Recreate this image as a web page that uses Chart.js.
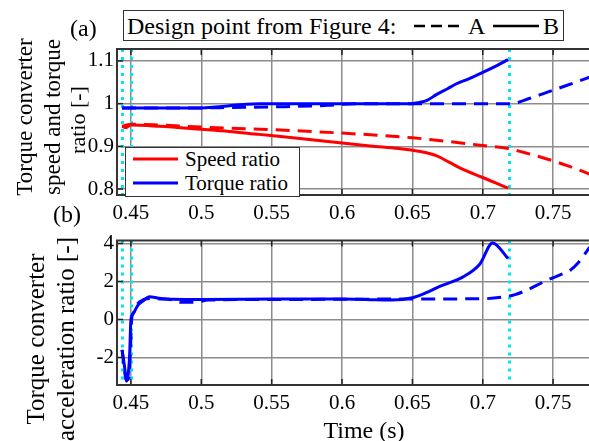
<!DOCTYPE html>
<html>
<head>
<meta charset="utf-8">
<script src="https://cdn.jsdelivr.net/npm/chart.js@4.4.0/dist/chart.umd.min.js"></script>
<style>
  body { margin: 0; background: #fff; width: 589px; height: 441px; overflow: hidden; position: relative; font-family: "Times New Roman", "Liberation Serif", "DejaVu Serif", serif; }
  canvas { position: absolute; left: 0; }
  #topChart { top: 0; }
  #bottomChart { top: 225px; }
  .txt { position: absolute; color: #000; font-size: 24px; white-space: nowrap; line-height: 1; }
  .rot { transform: translate(-50%, -50%) rotate(-90deg); }
  #designBox { position: absolute; left: 123px; top: 10px; width: 439px; height: 29px; border: 1.5px solid #333; background: #fff; }
  #legendBox { position: absolute; left: 125px; top: 147px; width: 173px; height: 48px; border: 1.5px solid #333; background: #fff; z-index: 3; }
  svg text { font-family: "Times New Roman", "Liberation Serif", "DejaVu Serif", serif; }
</style>
</head>
<body>
<canvas id="topChart" width="589" height="225"></canvas>
<canvas id="bottomChart" width="589" height="216"></canvas>

<div id="designBox">
  <svg width="439" height="29" style="position:absolute;left:0;top:0">
    <text x="3" y="23" font-size="24">Design point from Figure 4:</text>
    <line x1="290" y1="15" x2="335" y2="15" stroke="#000" stroke-width="2.5" stroke-dasharray="11,6"/>
    <text x="344" y="23" font-size="24">A</text>
    <line x1="369" y1="15" x2="415" y2="15" stroke="#000" stroke-width="2.5"/>
    <text x="419" y="23" font-size="24">B</text>
  </svg>
</div>

<div id="legendBox">
  <svg width="173" height="48" style="position:absolute;left:0;top:0">
    <line x1="7" y1="11" x2="52" y2="11" stroke="#ff0000" stroke-width="3"/>
    <text x="59" y="18" font-size="21">Speed ratio</text>
    <line x1="7" y1="35" x2="52" y2="35" stroke="#0000ff" stroke-width="3"/>
    <text x="59" y="42" font-size="21">Torque ratio</text>
  </svg>
</div>

<div class="txt" style="left:70px;top:16px;">(a)</div>
<div class="txt" style="left:53px;top:202px;">(b)</div>
<div class="txt rot" style="left:24px;top:117px;font-size:23px;">Torque converter</div>
<div class="txt rot" style="left:52px;top:117px;font-size:23px;">speed and torque</div>
<div class="txt rot" style="left:78px;top:120px;font-size:22px;">ratio [-]</div>
<div class="txt rot" style="left:35px;top:339px;font-size:25px;">Torque converter</div>
<div class="txt rot" style="left:65px;top:339px;font-size:25px;">acceleration ratio [-]</div>
<div class="txt" style="left:364px;top:430px;transform:translate(-50%,-50%);">Time (s)</div>

<script>
// valeurs
const xTicks = [0.45, 0.5, 0.55, 0.6, 0.65, 0.7, 0.75];
const ratioTicks = [0.8, 0.9, 1, 1.1];
const accelTicks = [-2, 0, 2, 4];
const eventTimes = [0.4437, 0.4497, 0.7185];

const timeSpeedA = [0.4437, 0.447, 0.45, 0.47, 0.5, 0.55, 0.6, 0.65, 0.7, 0.718, 0.73, 0.745, 0.76, 0.776];
const speedA = [0.947, 0.95, 0.952, 0.95, 0.945, 0.939, 0.931, 0.92, 0.902, 0.895, 0.885, 0.871, 0.855, 0.835];
const timeSpeedB = [0.4437, 0.4465, 0.4497, 0.47, 0.5, 0.52, 0.541, 0.56, 0.58, 0.6, 0.62, 0.64, 0.65, 0.66, 0.667, 0.676, 0.686, 0.7, 0.71, 0.718];
const speedB = [0.947, 0.944, 0.95, 0.947, 0.94, 0.935, 0.928, 0.922, 0.915, 0.908, 0.901, 0.895, 0.891, 0.885, 0.878, 0.863, 0.846, 0.827, 0.813, 0.802];

const timeTorqueA = [0.4437, 0.5, 0.52, 0.56, 0.59, 0.61, 0.65, 0.7, 0.72, 0.733, 0.745, 0.76, 0.776];
const torqueA = [0.99, 0.99, 0.991, 0.993, 0.996, 1.0, 1.0, 1.0, 1.0, 1.012, 1.026, 1.043, 1.062];
const timeTorqueB = [0.4437, 0.5, 0.51, 0.52, 0.53, 0.541, 0.6, 0.65, 0.655, 0.66, 0.667, 0.675, 0.681, 0.69, 0.7, 0.71, 0.718];
const torqueB = [0.99, 0.99, 0.992, 0.995, 0.998, 1.0, 1.0, 1.0, 1.003, 1.007, 1.021, 1.035, 1.046, 1.058, 1.073, 1.089, 1.103];

const timeAccelA = [0.4437, 0.4452, 0.4465, 0.4485, 0.4497, 0.4505, 0.452, 0.4545, 0.4592, 0.464, 0.471, 0.48, 0.485, 0.495, 0.505, 0.55, 0.6, 0.65, 0.7, 0.718, 0.723, 0.73, 0.745, 0.755, 0.762, 0.768, 0.776];
const accelA = [-1.6, -2.5, -3.2, -3.1, -1.5, 0, 0.37, 0.8, 1.05, 1.1, 1.08, 1.02, 0.9, 0.9, 1.02, 1.05, 1.06, 1.08, 1.09, 1.22, 1.31, 1.5, 2.04, 2.35, 2.58, 3.0, 3.8];
const timeAccelB = [0.4437, 0.4455, 0.4468, 0.449, 0.45, 0.4515, 0.455, 0.459, 0.463, 0.47, 0.48, 0.5, 0.55, 0.6, 0.62, 0.635, 0.65, 0.662, 0.669, 0.686, 0.698, 0.707, 0.718];
const accelB = [-1.6, -2.5, -3.25, -2.0, 0, 0.3, 0.75, 1.0, 1.2, 1.12, 1.06, 1.05, 1.07, 1.08, 1.04, 1.02, 1.14, 1.48, 1.73, 2.24, 2.92, 4.03, 3.21];

const RED = '#ff0000';
const BLUE = '#0000ff';
const DASH = [14, 8];
const FONT = '"Times New Roman", "Liberation Serif", "DejaVu Serif", serif';

function points(xs, ys) {
    return xs.map((x, i) => ({ x: x, y: ys[i] }));
}

function line(xs, ys, color, dashed) {
    return {
        data: points(xs, ys),
        borderColor: color,
        borderWidth: 3,
        borderDash: dashed ? DASH : [],
        pointRadius: 0,
        cubicInterpolationMode: 'monotone',
        fill: false
    };
}

// cadre, petites graduations et lignes cyan
const framePlugin = {
    id: 'frame',
    beforeDatasetsDraw(chart) {
        const { ctx, chartArea: a, scales } = chart;
        ctx.save();
        ctx.strokeStyle = '#00e5ee';
        ctx.lineWidth = 3;
        ctx.setLineDash([3, 5]);
        eventTimes.forEach(t => {
            const x = Math.round(scales.x.getPixelForValue(t)) + 0.5;
            ctx.beginPath();
            ctx.moveTo(x, a.top);
            ctx.lineTo(x, a.bottom);
            ctx.stroke();
        });
        ctx.restore();
    },
    afterDraw(chart) {
        const { ctx, chartArea: a, scales } = chart;
        ctx.save();
        ctx.strokeStyle = '#222';
        ctx.lineWidth = 1.5;
        scales.x.ticks.forEach(tk => {
            const x = scales.x.getPixelForValue(tk.value);
            ctx.beginPath();
            ctx.moveTo(x, a.bottom); ctx.lineTo(x, a.bottom - 6);
            ctx.moveTo(x, a.top); ctx.lineTo(x, a.top + 6);
            ctx.stroke();
        });
        scales.y.ticks.forEach(tk => {
            const y = scales.y.getPixelForValue(tk.value);
            ctx.beginPath();
            ctx.moveTo(a.left, y); ctx.lineTo(a.left + 6, y);
            ctx.stroke();
        });
        ctx.lineWidth = 2;
        ctx.strokeStyle = '#333';
        ctx.beginPath();
        ctx.moveTo(a.right + 2, a.top);
        ctx.lineTo(a.left, a.top);
        ctx.lineTo(a.left, a.bottom);
        ctx.lineTo(a.right + 2, a.bottom);
        ctx.stroke();
        ctx.restore();
    }
};

function makeOptions(yMin, yMax, yTicks, padTop, xHeight) {
    return {
        responsive: false,
        animation: false,
        devicePixelRatio: 1,
        layout: { padding: { top: padTop, left: 0, right: 0, bottom: 0 } },
        plugins: { legend: { display: false }, tooltip: { enabled: false } },
        scales: {
            x: {
                type: 'linear',
                min: 0.4401,
                max: 0.7755,
                afterBuildTicks(s) { s.ticks = xTicks.map(v => ({ value: v })); },
                afterFit(s) { s.height = xHeight; },
                ticks: {
                    color: '#000',
                    padding: 6,
                    maxRotation: 0,
                    font: { family: FONT, size: 21 },
                    callback: v => String(v)
                },
                grid: { color: '#8c8c8c', lineWidth: 1.5, drawTicks: false },
                border: { display: false }
            },
            y: {
                min: yMin,
                max: yMax,
                afterBuildTicks(s) { s.ticks = yTicks.map(v => ({ value: v })); },
                afterFit(s) { s.width = 117; },
                ticks: {
                    color: '#000',
                    padding: 3,
                    font: { family: FONT, size: 21 },
                    callback: v => String(v)
                },
                grid: { color: '#8c8c8c', lineWidth: 1.5, drawTicks: false },
                border: { display: false }
            }
        }
    };
}

new Chart(document.getElementById('topChart'), {
    type: 'line',
    data: {
        datasets: [
            line(timeSpeedA, speedA, RED, true),
            line(timeTorqueA, torqueA, BLUE, true),
            line(timeSpeedB, speedB, RED, false),
            line(timeTorqueB, torqueB, BLUE, false)
        ]
    },
    options: makeOptions(0.786, 1.128, ratioTicks, 49, 30),
    plugins: [framePlugin]
});

new Chart(document.getElementById('bottomChart'), {
    type: 'line',
    data: {
        datasets: [
            line(timeAccelA, accelA, BLUE, true),
            line(timeAccelB, accelB, BLUE, false)
        ]
    },
    options: makeOptions(-3.45, 4.15, accelTicks, 11, 56),
    plugins: [framePlugin]
});
</script>
</body>
</html>
